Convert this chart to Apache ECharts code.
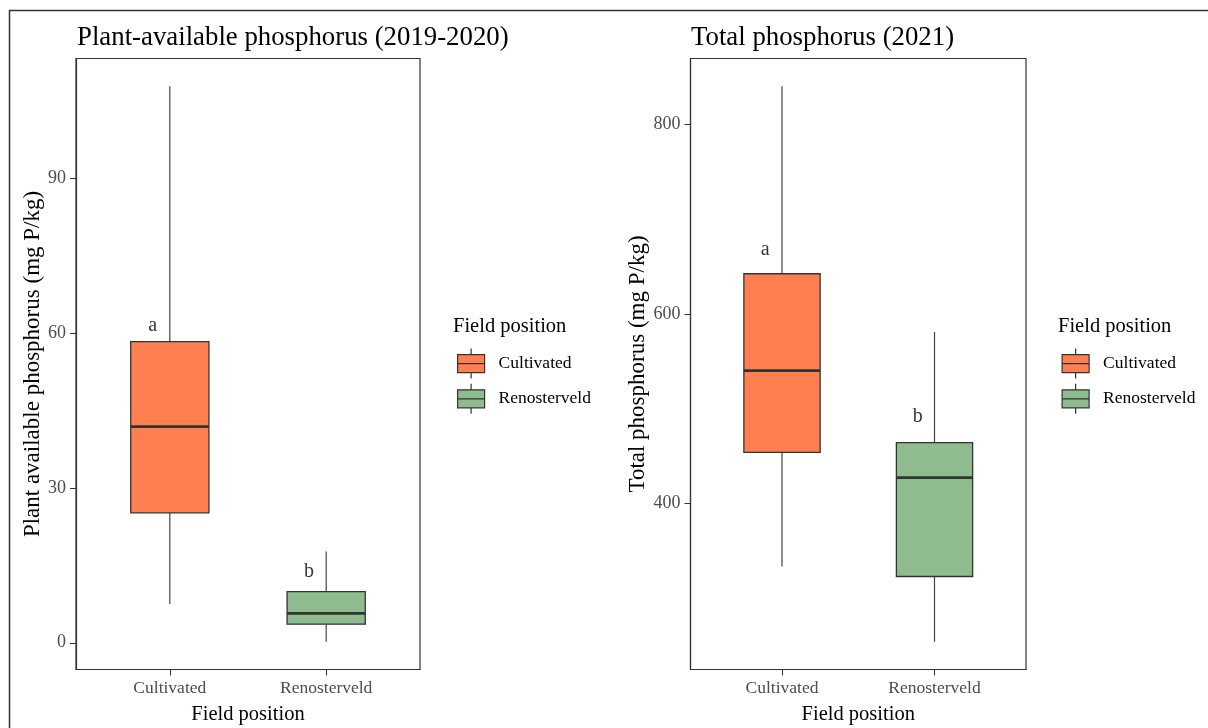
<!DOCTYPE html>
<html>
<head>
<meta charset="utf-8">
<script src="https://cdn.jsdelivr.net/npm/echarts@6/dist/echarts.min.js"></script>
<style>
  html, body { margin: 0; padding: 0; background: #fff; }
  #chart { width: 1208px; height: 728px; }
</style>
</head>
<body>
<div id="chart"></div>
<script>
// Field positions and significance letters
const categories = ['Cultivated', 'Renosterveld'];
const letters = ['a', 'b'];

// Plant-available P, 2019-2020 (mg P/kg): whisker ends, quartiles, median
const availMin = [7.5, 0.2];
const availQ1 = [25.2, 3.6];
const availMedian = [41.9, 5.7];
const availQ3 = [58.4, 9.9];
const availMax = [107.9, 17.7];
const availLetterY = [61.5, 13.8];
const availTicks = [0, 30, 60, 90];

// Total P, 2021 (mg P/kg)
const totalMin = [333.6, 254.2];
const totalQ1 = [453.9, 323.0];
const totalMedian = [540.0, 427.2];
const totalQ3 = [642.2, 464.2];
const totalMax = [839.9, 580.8];
const totalLetterY = [667, 491];
const totalTicks = [400, 600, 800];

const FONT = "'Liberation Serif', 'DejaVu Serif', serif";
const fills = { Cultivated: '#FF7F50', Renosterveld: '#8FBC8F' };
const LINE = '#333333';
const TICK_TEXT = '#4D4D4D';

const panels = [
  { min: availMin, q1: availQ1, med: availMedian, q3: availQ3, max: availMax,
    letterY: availLetterY, ticks: availTicks,
    yName: 'Plant available phosphorus (mg P/kg)', yGap: 29,
    grid: { left: 76, top: 58.5, width: 344, height: 611 } },
  { min: totalMin, q1: totalQ1, med: totalMedian, q3: totalQ3, max: totalMax,
    letterY: totalLetterY, ticks: totalTicks,
    yName: 'Total phosphorus (mg P/kg)', yGap: 39,
    grid: { left: 690.5, top: 58.5, width: 335.5, height: 611 } }
];

// Box with whiskers and a heavy median bar, centred on its category position
function renderBox(params, api) {
  const x = api.value(0);
  const half = 0.25;
  const pMin = api.coord([x, api.value(1)]);
  const pQ1 = api.coord([x, api.value(2)]);
  const pMed = api.coord([x, api.value(3)]);
  const pQ3 = api.coord([x, api.value(4)]);
  const pMax = api.coord([x, api.value(5)]);
  const left = api.coord([x - half, api.value(3)])[0];
  const right = api.coord([x + half, api.value(3)])[0];
  const whisker = { stroke: '#444444', lineWidth: 1.2 };
  return {
    type: 'group',
    children: [
      { type: 'line', shape: { x1: pMin[0], y1: pMin[1], x2: pQ1[0], y2: pQ1[1] }, style: whisker },
      { type: 'line', shape: { x1: pQ3[0], y1: pQ3[1], x2: pMax[0], y2: pMax[1] }, style: whisker },
      { type: 'rect', shape: { x: left, y: pQ3[1], width: right - left, height: pQ1[1] - pQ3[1] },
        style: { fill: api.visual('color'), stroke: LINE, lineWidth: 1.3 } },
      { type: 'line', shape: { x1: left, y1: pMed[1], x2: right, y2: pMed[1] },
        style: { stroke: LINE, lineWidth: 2.7 } }
    ]
  };
}

const grids = [], xAxes = [], yAxes = [], series = [];

panels.forEach((p, k) => {
  grids.push(Object.assign({ show: true, borderColor: LINE, borderWidth: 1.2,
    containLabel: false, outerBoundsMode: 'none' }, p.grid));

  xAxes.push({
    type: 'value', gridIndex: k, min: 0.4, max: 2.6,
    splitLine: { show: false },
    axisLine: { show: true, onZero: false, lineStyle: { color: LINE, width: 1.2 } },
    axisTick: { show: true, length: 6, customValues: [1, 2], lineStyle: { color: LINE } },
    axisLabel: { customValues: [1, 2], margin: 10, color: TICK_TEXT, fontFamily: FONT, fontSize: 17.5,
      formatter: v => categories[Math.round(v) - 1] },
    name: 'Field position', nameLocation: 'middle', nameGap: 35,
    nameTextStyle: { fontFamily: FONT, fontSize: 20.5, color: '#000' }
  });

  const lo = Math.min(...p.min), hi = Math.max(...p.max), span = hi - lo;
  yAxes.push({
    type: 'value', gridIndex: k, min: lo - 0.05 * span, max: hi + 0.05 * span,
    splitLine: { show: false },
    axisLine: { show: true, onZero: false, lineStyle: { color: LINE, width: 1.2 } },
    axisTick: { show: true, length: 6, customValues: p.ticks, lineStyle: { color: LINE } },
    axisLabel: { customValues: p.ticks, margin: 10, color: TICK_TEXT, fontFamily: FONT, fontSize: 18 },
    name: p.yName, nameLocation: 'middle', nameRotate: 90, nameGap: p.yGap,
    nameTextStyle: { fontFamily: FONT, fontSize: 23, color: '#000' }
  });

  categories.forEach((c, i) => {
    series.push({
      type: 'custom', name: c, xAxisIndex: k, yAxisIndex: k,
      itemStyle: { color: fills[c] },
      encode: { x: 0, y: [1, 2, 3, 4, 5] },
      renderItem: renderBox,
      data: [[i + 1, p.min[i], p.q1[i], p.med[i], p.q3[i], p.max[i]]]
    });
  });

  series.push({
    type: 'scatter', name: 'letters', xAxisIndex: k, yAxisIndex: k,
    symbolSize: 1, itemStyle: { color: 'rgba(0,0,0,0)' }, silent: true,
    label: { show: true, position: 'inside', formatter: d => d.value[2],
      fontFamily: FONT, fontSize: 20, color: '#000' },
    data: letters.map((l, i) => [i + 1 - 0.11, p.letterY[i], l])
  });
});

// Legend key: box, median bar and whisker stubs
const keyIcon = 'path://M0,6H27V24H0Z M0,15H27 M13.5,0V6 M13.5,24V30';

const legends = [457, 1061.5].map(left => ({
  orient: 'vertical', left: left, top: 348, padding: 0, itemGap: 4,
  itemWidth: 27, itemHeight: 30, selectedMode: false, icon: keyIcon,
  data: categories.map(c => ({ name: c,
    itemStyle: { color: fills[c], borderColor: LINE, borderWidth: 1.2 } })),
  textStyle: { fontFamily: FONT, fontSize: 17.5, color: '#000', padding: [0, 0, 0, 9] }
}));

const titleStyle = size => ({ fontFamily: FONT, fontSize: size, fontWeight: 'normal', color: '#000' });

const option = {
  backgroundColor: '#fff',
  animation: false,
  title: [
    { text: 'Plant-available phosphorus (2019-2020)', left: 77, top: 24, padding: 0, textStyle: titleStyle(26.8) },
    { text: 'Total phosphorus (2021)', left: 691, top: 24, padding: 0, textStyle: titleStyle(26.8) },
    { text: 'Field position', left: 453, top: 316, padding: 0, textStyle: titleStyle(20.5) },
    { text: 'Field position', left: 1058, top: 316, padding: 0, textStyle: titleStyle(20.5) }
  ],
  legend: legends,
  grid: grids,
  xAxis: xAxes,
  yAxis: yAxes,
  series: series,
  graphic: [{
    type: 'rect', silent: true, z: 100,
    shape: { x: 9.5, y: 10.5, width: 1400, height: 900 },
    style: { fill: 'none', stroke: LINE, lineWidth: 1.5 }
  }]
};

const chart = echarts.init(document.getElementById('chart'), null, { renderer: 'canvas' });
chart.setOption(option);
</script>
</body>
</html>
